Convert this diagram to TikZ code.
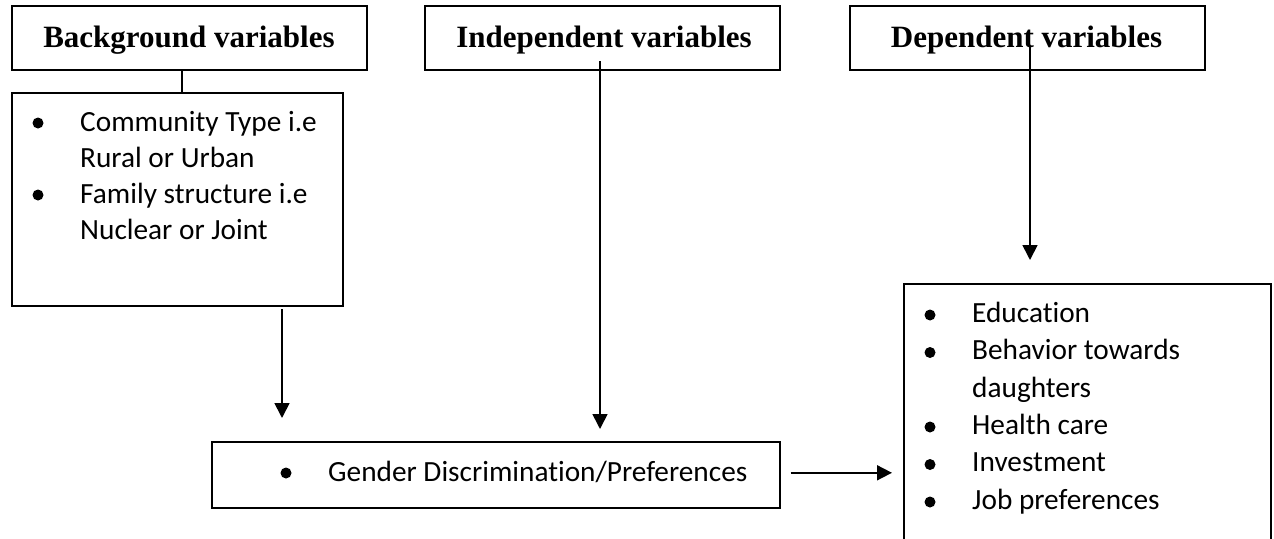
\documentclass[tikz,border=0pt]{standalone}
\usepackage{fontspec}
\setmainfont{Carlito}[RawFeature={-liga}]
\newfontfamily\hdfont{Liberation Serif}
\usetikzlibrary{arrows.meta}
\begin{document}
\begin{tikzpicture}[x=1pt,y=-1pt,
  box/.style={draw, line width=1.6pt, inner sep=0pt, anchor=north west},
  hdtext/.style={font=\hdfont\bfseries\fontsize{31}{31}\selectfont, anchor=base, inner sep=0pt},
  body/.style={font=\fontsize{29.3}{29}\selectfont, anchor=base west, inner sep=0pt},
  bul/.style={circle, fill, inner sep=0pt, minimum size=11pt},
  arr/.style={line width=1.7pt, -{Triangle[width=15pt,length=15pt]}},
  conn/.style={line width=1.7pt}]
\useasboundingbox (0,0) rectangle (1274,538);
\clip (0,0) rectangle (1274,538);
% header boxes
\node[box, minimum width=355pt, minimum height=64pt] (bg) at (11,5) {};
\node[hdtext] (bgt) at (189,47) {Background variables};
\node[box, minimum width=355pt, minimum height=64pt] (iv) at (424,5) {};
\node[hdtext] (ivt) at (604,47) {Independent variables};
\node[box, minimum width=355pt, minimum height=64pt] (dv) at (849,5) {};
\node[hdtext] (dvt) at (1026.5,47) {Dependent variables};
% content boxes
\node[box, minimum width=331pt, minimum height=213pt] (lb) at (11,92) {};
\node[box, minimum width=568pt, minimum height=66pt] (gd) at (211,441) {};
\node[box, minimum width=367pt, minimum height=290pt] (rb) at (903,283) {};
% left box text
\node[bul] (lb1) at (38,123) {};
\node[body] (lt1) at (80,131) {Community Type i.e};
\node[body] (lt2) at (80,167) {Rural or Urban};
\node[bul] (lb2) at (38,195) {};
\node[body] (lt3) at (80,203) {Family structure i.e};
\node[body] (lt4) at (80,239) {Nuclear or Joint};
% gender box text
\node[bul] (gb1) at (286,473) {};
\node[body] (gt1) at (328,481) {Gender Discrimination/Preferences};
% right box text
\node[bul] (rb1) at (930,315) {};
\node[body] (rt1) at (972,322) {Education};
\node[bul] (rb2) at (930,352.5) {};
\node[body] (rt2) at (972,359.5) {Behavior towards};
\node[body] (rt3) at (972,397) {daughters};
\node[bul] (rb3) at (930,427) {};
\node[body] (rt4) at (972,434) {Health care};
\node[bul] (rb4) at (930,464.5) {};
\node[body] (rt5) at (972,471.5) {Investment};
\node[bul] (rb5) at (930,502) {};
\node[body] (rt6) at (972,509) {Job preferences};
% connectors
\draw[conn] ([xshift=-7.5pt]bg.south) -- ([xshift=-7.5pt]bg.south |- lb.north);
\coordinate (a1) at (282,309);
\draw[arr, shorten >=23pt] (a1) -- (a1 |- gd.north);
\coordinate (a2) at (600,61);
\draw[arr, shorten >=12pt] (a2) -- (a2 |- gd.north);
\coordinate (a3) at (1030,47);
\draw[arr, shorten >=23pt] (a3) -- (a3 |- rb.north);
\draw[arr, shorten <=10pt, shorten >=11pt] ([yshift=2pt]gd.east) -- ([yshift=2pt]gd.east -| rb.west);
\end{tikzpicture}
\end{document}
